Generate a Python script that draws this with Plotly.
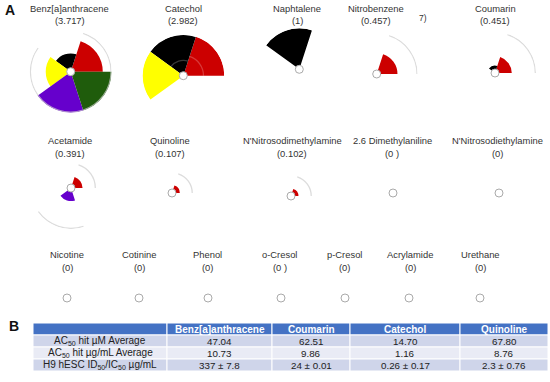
import plotly.graph_objects as go

# ---------------- data ----------------
compounds = ["Benz[a]anthracene", "Catechol", "Naphtalene", "Nitrobenzene", "Coumarin",
             "Acetamide", "Quinoline", "N'Nitrosodimethylamine", "2.6 Dimethylaniline",
             "N'Nitrosodiethylamine",
             "Nicotine", "Cotinine", "Phenol", "o-Cresol", "p-Cresol", "Acrylamide", "Urethane"]
score_labels = ["(3.717)", "(2.982)", "(1)", "(0.457)", "(0.451)",
                "(0.391)", "(0.107)", "(0.102)", "(0 )", "(0)",
                "(0)", "(0)", "(0)", "(0 )", "(0)", "(0)", "(0)"]

# ToxPi slices (counter-clockwise from east), equal weights
slice_weights = [1, 1, 1, 1, 1]

# slice scores per compound: [red, black, yellow, purple, green]
slice_scores = [
    [0.76, 0.39, 0.57, 1.00, 1.00],
    [1.00, 0.99, 0.99, 0, 0],
    [0, 1.00, 0, 0, 0],
    [0.457, 0, 0, 0, 0],
    [0.35, 0.10, 0, 0, 0],
    [0.21, 0, 0, 0.25, 0],
    [0.11, 0, 0, 0, 0],
    [0.10, 0, 0, 0, 0],
    [0, 0, 0, 0, 0],
    [0, 0, 0, 0, 0],
    [0, 0, 0, 0, 0],
    [0, 0, 0, 0, 0],
    [0, 0, 0, 0, 0],
    [0, 0, 0, 0, 0],
    [0, 0, 0, 0, 0],
    [0, 0, 0, 0, 0],
    [0, 0, 0, 0, 0],
]
# gray confidence arcs per compound/slice (None = no arc)
slice_arcs = [
    [1.0, None, 1.0, 1.0, 1.0],
    [0.46, 0.33, None, None, None],
    [None] * 5,
    [1.0, None, None, None, None],
    [1.0, None, None, None, None],
    [0.57, None, None, 1.0, None],
    [0.46, None, None, None, None],
    [0.46, None, None, None, None],
] + [[None] * 5] * 9

# table B
table_header = ["", "Benz[a]anthracene", "Coumarin", "Catechol", "Quinoline"]
row_labels = ["AC<sub>50</sub> hit µM Average",
              "AC<sub>50</sub> hit µg/mL Average",
              "H9 hESC ID<sub>50</sub>/IC<sub>50</sub> µg/mL"]
benz_vals = ["47.04", "10.73", "337 ± 7.8"]
coumarin_vals = ["62.51", "9.86", "24 ± 0.01"]
catechol_vals = ["14.70", "1.16", "0.26 ± 0.17"]
quinoline_vals = ["67.80", "8.76", "2.3 ± 0.76"]

# ---------------- styles / layout ----------------
W, H = 550, 382
FONT = "Liberation Sans, Arial, sans-serif"
slice_colors = ["#CC0000", "#000000", "#FFFF00", "#6600CC", "#1F5C0C"]
HUB = 0.1
R_PX = 41
ARC_T = 0.035
ARC_OUT = "rgba(205,205,205,0.7)"
ARC_IN = "rgba(255,255,255,0.22)"

# hub centres (px) and title positions (px)
hub_px = [(70.7, 71.7), (183.3, 75.7), (299.3, 69.3), (376.7, 74), (495, 73),
          (71, 188), (172, 193), (291, 196), (393, 193), (499, 193),
          (67, 298), (139, 298), (208, 298), (281, 298), (345, 298), (409, 298), (480, 298)]
title_px = [(70, 8.3), (183, 8.3), (297, 8.3), (376, 8.3), (495, 8.3),
            (70, 141), (170, 141), (292, 141), (392, 141), (498, 141),
            (67, 255), (139, 255), (207, 255), (280, 255), (344, 255), (410, 255), (480, 255)]
LINE_GAP = 12.3

total_w = sum(slice_weights)
widths = [360.0 * w / total_w for w in slice_weights]
centers = []
acc = 0.0
for w in widths:
    centers.append(acc + w / 2)
    acc += w

fig = go.Figure()
layout_polars = {}
annotations = []
shapes = []

for i, name in enumerate(compounds):
    key = "polar" if i == 0 else f"polar{i + 1}"
    cx, cy = hub_px[i]
    layout_polars[key] = dict(
        domain=dict(x=[(cx - R_PX) / W, (cx + R_PX) / W],
                    y=[1 - (cy + R_PX) / H, 1 - (cy - R_PX) / H]),
        bgcolor="rgba(0,0,0,0)",
        barmode="overlay",
        radialaxis=dict(range=[0, 1 + HUB], visible=False, showgrid=False,
                        showline=False, showticklabels=False, ticks=""),
        angularaxis=dict(visible=False, showgrid=False, showline=False,
                         showticklabels=False, ticks="", rotation=0,
                         direction="counterclockwise"),
    )
    sc = slice_scores[i]
    idx = [k for k in range(len(sc)) if sc[k] > 0]
    if idx:
        fig.add_trace(go.Barpolar(
            r=[sc[k] for k in idx], theta=[centers[k] for k in idx],
            width=[widths[k] for k in idx], base=HUB,
            marker=dict(color=[slice_colors[k] for k in idx], line=dict(width=0)),
            subplot=key, showlegend=False, hoverinfo="skip"))
    ar = slice_arcs[i]
    aidx = [k for k in range(len(ar)) if ar[k] is not None]
    if aidx:
        fig.add_trace(go.Barpolar(
            r=[ARC_T] * len(aidx), theta=[centers[k] for k in aidx],
            width=[widths[k] for k in aidx],
            base=[HUB + ar[k] - ARC_T for k in aidx],
            marker=dict(color=[ARC_IN if ar[k] < sc[k] - 0.05 else ARC_OUT for k in aidx],
                        line=dict(width=0)),
            subplot=key, showlegend=False, hoverinfo="skip"))
    fig.add_trace(go.Scatterpolar(
        r=[0], theta=[0], mode="markers",
        marker=dict(size=8, color="white", line=dict(color="#AAAAAA", width=1)),
        subplot=key, showlegend=False, hoverinfo="skip"))

    tx, ty = title_px[i]
    annotations.append(dict(x=tx / W, y=1 - ty / H, xref="paper", yref="paper",
                            text=name, showarrow=False, xanchor="center", yanchor="middle",
                            font=dict(family=FONT, size=9.4, color="#333333")))
    annotations.append(dict(x=tx / W, y=1 - (ty + LINE_GAP) / H, xref="paper", yref="paper",
                            text=score_labels[i], showarrow=False, xanchor="center",
                            yanchor="middle",
                            font=dict(family=FONT, size=9.4, color="#333333")))

annotations.append(dict(x=9.5 / W, y=1 - 10 / H, xref="paper", yref="paper", text="<b>A</b>",
                        showarrow=False, xanchor="center", yanchor="middle",
                        font=dict(family=FONT, size=14, color="#111111")))
annotations.append(dict(x=14 / W, y=1 - 326 / H, xref="paper", yref="paper", text="<b>B</b>",
                        showarrow=False, xanchor="center", yanchor="middle",
                        font=dict(family=FONT, size=14, color="#111111")))
annotations.append(dict(x=423 / W, y=1 - 18.3 / H, xref="paper", yref="paper", text="7)",
                        showarrow=False, xanchor="center", yanchor="middle",
                        font=dict(family=FONT, size=8.5, color="#333333")))

# ---------------- table B (drawn with shapes + text) ----------------
col_edges = [33, 167, 272, 350, 460, 548]
row_edges = [323, 335, 347, 359, 371]
header_fill = "#4472C4"
row_fills = ["#CFD5EA", "#E9EBF5", "#CFD5EA"]
columns = [row_labels, benz_vals, coumarin_vals, catechol_vals, quinoline_vals]

for c in range(len(col_edges) - 1):
    x0, x1 = col_edges[c], col_edges[c + 1]
    for r in range(len(row_edges) - 1):
        y0, y1 = row_edges[r], row_edges[r + 1]
        fill = header_fill if r == 0 else row_fills[r - 1]
        shapes.append(dict(type="rect", xref="paper", yref="paper",
                           x0=x0 / W, x1=x1 / W, y0=1 - y1 / H, y1=1 - y0 / H,
                           fillcolor=fill, line=dict(color="white", width=1), layer="below"))
        if r == 0:
            txt = f"<b>{table_header[c]}</b>" if table_header[c] else ""
            col = "white"
            size = 10
        else:
            txt = columns[c][r - 1]
            col = "#222222"
            size = 10 if c == 0 else 9.8
        if txt:
            annotations.append(dict(x=(x0 + x1) / 2 / W, y=1 - (y0 + y1) / 2 / H,
                                    xref="paper", yref="paper", text=txt, showarrow=False,
                                    xanchor="center", yanchor="middle",
                                    font=dict(family=FONT, size=size, color=col)))

fig.update_layout(width=W, height=H, margin=dict(l=0, r=0, t=0, b=0),
                  paper_bgcolor="white", plot_bgcolor="white",
                  annotations=annotations, shapes=shapes, **layout_polars)

fig.write_html("out.html", config={"displayModeBar": False},
               post_script="document.body.style.margin='0';document.body.style.padding='0';")
